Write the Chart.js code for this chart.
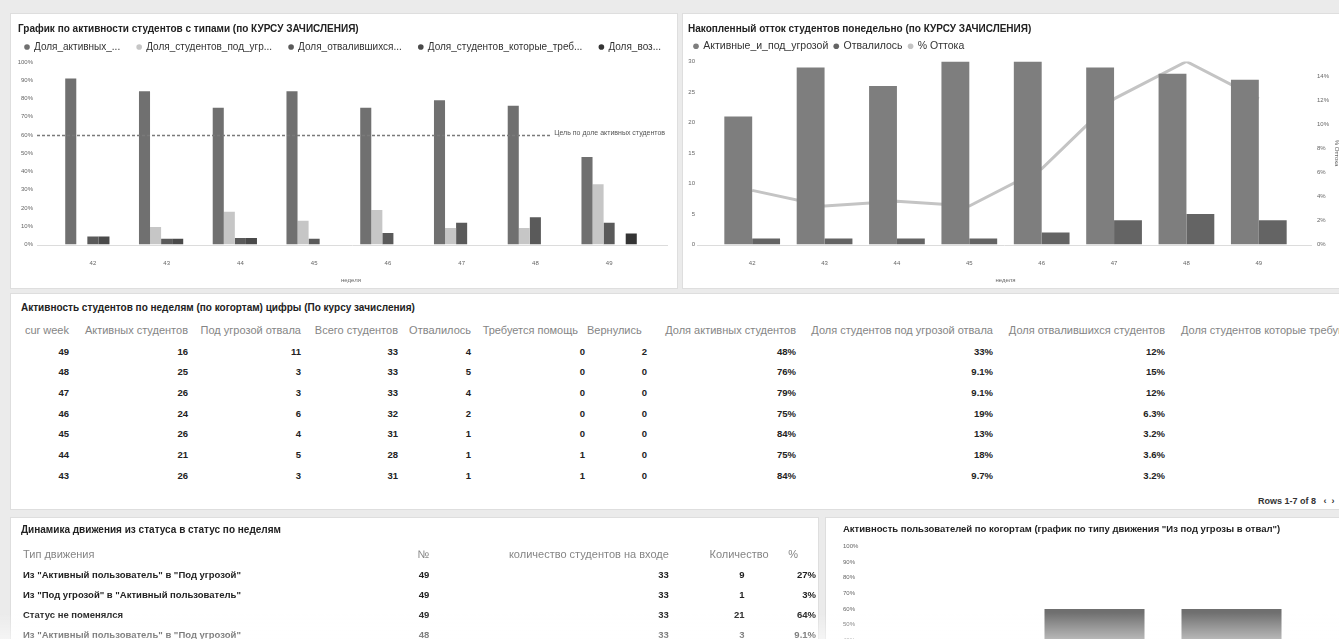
<!DOCTYPE html>
<html>
<head>
<meta charset="utf-8">
<script src="https://cdn.jsdelivr.net/npm/chart.js@4/dist/chart.umd.min.js"></script>
<style>
  html, body { margin: 0; padding: 0; }
  body { width: 1339px; height: 639px; overflow: hidden; background: #ebebeb; font-family: "Liberation Sans", Arial, sans-serif; }
  #page { position: relative; width: 1339px; height: 639px; filter: blur(0.6px); }
  .panel { position: absolute; background: #fff; border: 1px solid #dedede; box-sizing: border-box; overflow: hidden; }
  canvas { position: absolute; }
  .ptitle { position: absolute; font-size: 10px; font-weight: bold; color: #222; white-space: nowrap; line-height: 12px; }
  table { position: absolute; border-collapse: collapse; table-layout: fixed; }
  td, th { padding: 0 2px 0 0; white-space: nowrap; overflow: hidden; text-align: right; }
  th { font-weight: normal; color: #858585; font-size: 11px; }
  td { font-weight: bold; color: #222; font-size: 9.5px; }
  .pager { position: absolute; font-size: 9px; font-weight: bold; color: #333; white-space: nowrap; }
  #fade { position: absolute; left: 0; top: 612px; width: 1339px; height: 27px; background: linear-gradient(rgba(255,255,255,0), rgba(255,255,255,0.5)); }
</style>
</head>
<body>
<div id="page">
  <div class="panel" style="left:10px; top:13px; width:668px; height:276px;"></div>
  <canvas id="chart-activity" width="659" height="274" style="left:18px; top:14px;"></canvas>

  <div class="panel" style="left:682px; top:13px; width:700px; height:276px;"></div>
  <canvas id="chart-churn" width="657" height="274" style="left:688px; top:14px;"></canvas>

  <div class="panel" id="panel-weeks" style="left:10px; top:293px; width:1420px; height:217px;">
    <div class="ptitle" style="left:10px; top:8px;">Активность студентов по неделям (по когортам) цифры (По курсу зачисления)</div>
    <table id="table-weeks" style="left:8px; top:26px;"></table>
    <div class="pager" style="left:1247px; top:202px;">Rows 1-7 of 8 &nbsp; ‹ &nbsp;›</div>
  </div>

  <div class="panel" id="panel-moves" style="left:10px; top:517px; width:809px; height:140px;">
    <div class="ptitle" style="left:10px; top:6px;">Динамика движения из статуса в статус по неделям</div>
    <table id="table-moves" style="left:8px; top:26px;"></table>
  </div>

  <div class="panel" style="left:825px; top:517px; width:560px; height:140px;"></div>
  <canvas id="chart-cohorts" width="505" height="211" style="left:840px; top:517px;"></canvas>

  <div id="fade"></div>
</div>

<script>
// weeks on the x axis of the two top charts
var weeks = ["42", "43", "44", "45", "46", "47", "48", "49"];

// top-left chart, shares in %
var activeShare = [91, 84, 75, 84, 75, 79, 76, 48];
var threatShare = [0, 9.7, 18, 13, 19, 9.1, 9.1, 33];
var leftShare = [4.5, 3.2, 3.6, 3.2, 6.3, 12, 15, 12];
var helpShare = [4.5, 3.2, 3.6, 0, 0, 0, 0, 0];
var returnedShare = [0, 0, 0, 0, 0, 0, 0, 6.1];
var targetShare = 60;

// top-right chart
var activeThreatCount = [21, 29, 26, 30, 30, 29, 28, 27];
var leftCount = [1, 1, 1, 1, 2, 4, 5, 4];
var churnPct = [4.5, 3.2, 3.6, 3.2, 6.3, 12.1, 15.2, 12.1];

// bottom-right chart
var cohortLabels = ["47", "48", "49"];
var threatToLeftShare = [0, 60, 60];

// weekly table
var weekHeaders = ["cur week", "Активных студентов", "Под угрозой отвала", "Всего студентов", "Отвалилось", "Требуется помощь", "Вернулись", "Доля активных студентов", "Доля студентов под угрозой отвала", "Доля отвалившихся студентов", "Доля студентов которые требуют помощи"];
var weekHeaderGap = [0, 0, 0, 0, 0, 7, 13, 0, 0, 0, 0];
var weekColWidths = [52, 119, 113, 97, 73, 114, 62, 149, 197, 172, 230];
var tableWeeks = [49, 48, 47, 46, 45, 44, 43];
var activeCol = [16, 25, 26, 24, 26, 21, 26];
var threatCol = [11, 3, 3, 6, 4, 5, 3];
var totalCol = [33, 33, 33, 32, 31, 28, 31];
var leftCol = [4, 5, 4, 2, 1, 1, 1];
var helpCol = [0, 0, 0, 0, 0, 1, 1];
var returnedCol = [2, 0, 0, 0, 0, 0, 0];
var activePctCol = ["48%", "76%", "79%", "75%", "84%", "75%", "84%"];
var threatPctCol = ["33%", "9.1%", "9.1%", "19%", "13%", "18%", "9.7%"];
var leftPctCol = ["12%", "15%", "12%", "6.3%", "3.2%", "3.6%", "3.2%"];
var helpPctCol = ["0%", "0%", "0%", "0%", "0%", "3.6%", "3.2%"];

// status movement table
var moveHeaders = ["Тип движения", "№", "количество студентов на входе", "Количество", "%"];
var moveColWidths = [380, 38, 242, 101, 48];
var moveTypes = ['Из "Активный пользователь" в "Под угрозой"', 'Из "Под угрозой" в "Активный пользователь"', 'Статус не поменялся', 'Из "Активный пользователь" в "Под угрозой"'];
var moveWeeks = [49, 49, 49, 48];
var moveInput = [33, 33, 33, 33];
var moveCount = [9, 1, 21, 3];
var movePct = ["27%", "3%", "64%", "9.1%"];

document.addEventListener("DOMContentLoaded", function() {
    Chart.defaults.font.family = '"Liberation Sans", Arial, sans-serif';
    Chart.defaults.color = "#666";

    var tickFont = { size: 6 };
    var noGrid = { display: false, drawTicks: false };

    // zero line, drawn a bit wider than the plot like in the dashboard
    var baseLine = {
        id: "baseLine",
        beforeDatasetsDraw: function(chart, args, opts) {
            var ctx = chart.ctx, area = chart.chartArea;
            var y0 = Math.round(chart.scales.y.getPixelForValue(0)) + 0.5;
            ctx.save();
            ctx.strokeStyle = "#dcdcdc";
            ctx.lineWidth = 1;
            ctx.beginPath();
            ctx.moveTo(area.left - opts.left, y0);
            ctx.lineTo(area.right + opts.right, y0);
            ctx.stroke();
            ctx.restore();
        }
    };

    // dashed goal line with its caption
    var goalLine = {
        id: "goalLine",
        afterDatasetsDraw: function(chart, args, opts) {
            var ctx = chart.ctx, area = chart.chartArea;
            var y = Math.round(chart.scales.y.getPixelForValue(opts.value)) + 0.5;
            var right = area.right + 19;
            ctx.save();
            ctx.font = "7px " + Chart.defaults.font.family;
            var w = ctx.measureText(opts.text).width;
            ctx.strokeStyle = "#7a7a7a";
            ctx.lineWidth = 1.5;
            ctx.setLineDash([3, 2]);
            ctx.beginPath();
            ctx.moveTo(area.left - 19, y);
            ctx.lineTo(right - w - 4, y);
            ctx.stroke();
            ctx.fillStyle = "#555";
            ctx.textAlign = "right";
            ctx.textBaseline = "bottom";
            ctx.fillText(opts.text, right, y + 1);
            ctx.restore();
        }
    };

    var titleOpts = function(text, top) {
        return {
            display: true,
            text: text,
            align: "start",
            color: "#222",
            font: { size: 10, weight: "bold" },
            padding: { top: top, bottom: 0 }
        };
    };

    // legend with small dots; "extra" widens the gap after each entry but the last
    var legendOpts = function(size, padding, extra) {
        return {
            align: "start",
            labels: {
                usePointStyle: true,
                pointStyle: "circle",
                boxWidth: 4,
                boxHeight: 4,
                padding: padding,
                color: "#333",
                font: { size: size },
                generateLabels: function(chart) {
                    var items = Chart.defaults.plugins.legend.labels.generateLabels(chart);
                    return items.map(function(item, i) {
                        if (i < items.length - 1) item.text = item.text + extra;
                        item.lineWidth = 0;
                        return item;
                    });
                }
            }
        };
    };

    new Chart(document.getElementById("chart-activity"), {
        type: "bar",
        data: {
            labels: weeks,
            datasets: [
                { label: "Доля_активных_...", data: activeShare, backgroundColor: "#707070" },
                { label: "Доля_студентов_под_угр...", data: threatShare, backgroundColor: "#c6c6c6" },
                { label: "Доля_отвалившихся...", data: leftShare, backgroundColor: "#5a5a5a" },
                { label: "Доля_студентов_которые_треб...", data: helpShare, backgroundColor: "#4a4a4a" },
                { label: "Доля_воз...", data: returnedShare, backgroundColor: "#343434" }
            ]
        },
        options: {
            responsive: false,
            animation: false,
            layout: { padding: { left: 0, right: 0, top: 0, bottom: 4 } },
            datasets: { bar: { categoryPercentage: 0.75, barPercentage: 1 } },
            plugins: {
                title: titleOpts("График по активности студентов с типами (по КУРСУ ЗАЧИСЛЕНИЯ)", 9),
                legend: legendOpts(10, 7, "\u2002\u2002"),
                tooltip: { enabled: false },
                baseLine: { left: 19, right: 22 },
                goalLine: { value: targetShare, text: "Цель по доле активных студентов" }
            },
            scales: {
                x: {
                    grid: { display: false },
                    border: { display: false },
                    ticks: { font: tickFont, padding: 7 },
                    title: { display: true, text: "неделя", font: tickFont, padding: { top: 3, bottom: 0 } }
                },
                y: {
                    min: 0,
                    max: 100,
                    grid: noGrid,
                    border: { display: false },
                    ticks: { stepSize: 10, font: tickFont, padding: 23, callback: function(v) { return v + "%"; } },
                    afterFit: function(scale) { scale.width = 38; }
                },
                // empty strip on the right, keeps the legend on one line
                side: {
                    position: "right",
                    grid: noGrid,
                    border: { display: false },
                    ticks: { display: false },
                    afterFit: function(scale) { scale.width = 31; }
                }
            }
        },
        plugins: [baseLine, goalLine]
    });

    new Chart(document.getElementById("chart-churn"), {
        type: "bar",
        data: {
            labels: weeks,
            datasets: [
                { label: "Активные_и_под_угрозой", data: activeThreatCount, backgroundColor: "#7e7e7e", order: 1 },
                { label: "Отвалилось", data: leftCount, backgroundColor: "#646464", order: 2 },
                { label: "% Оттока", type: "line", data: churnPct, yAxisID: "y1", borderColor: "#c4c4c4", backgroundColor: "#c4c4c4", borderWidth: 3, pointRadius: 0, order: 3 }
            ]
        },
        options: {
            responsive: false,
            animation: false,
            layout: { padding: { left: 0, right: 5, top: 0, bottom: 4 } },
            datasets: { bar: { categoryPercentage: 0.77, barPercentage: 1 } },
            plugins: {
                title: titleOpts("Накопленный отток студентов понедельно (по КУРСУ ЗАЧИСЛЕНИЯ)", 9),
                legend: legendOpts(10.5, 6, ""),
                tooltip: { enabled: false },
                baseLine: { left: 19, right: 17 }
            },
            scales: {
                x: {
                    grid: { display: false },
                    border: { display: false },
                    ticks: { font: tickFont, padding: 7 },
                    title: { display: true, text: "неделя", font: tickFont, padding: { top: 3, bottom: 0 } }
                },
                y: {
                    min: 0,
                    max: 30,
                    grid: noGrid,
                    border: { display: false },
                    ticks: { stepSize: 5, font: tickFont, padding: 21 },
                    afterFit: function(scale) { scale.width = 28; }
                },
                y1: {
                    position: "right",
                    min: 0,
                    max: Math.max.apply(null, churnPct),
                    grid: noGrid,
                    border: { display: false },
                    ticks: { stepSize: 2, font: tickFont, padding: 22, callback: function(v) { return v + "%"; } },
                    afterBuildTicks: function(scale) {
                        scale.ticks = scale.ticks.filter(function(t) { return Math.abs(t.value / 2 - Math.round(t.value / 2)) < 0.01; });
                    },
                    title: { display: true, text: "% Оттока", font: tickFont, padding: 0 },
                    afterFit: function(scale) { scale.width = 45; }
                }
            }
        },
        plugins: [baseLine]
    });

    new Chart(document.getElementById("chart-cohorts"), {
        type: "bar",
        data: {
            labels: cohortLabels,
            datasets: [
                { label: "Из под угрозы в отвал", data: threatToLeftShare, backgroundColor: "#6f6f6f" }
            ]
        },
        options: {
            responsive: false,
            animation: false,
            layout: { padding: { left: 3, right: 45, top: 0, bottom: 4 } },
            datasets: { bar: { categoryPercentage: 0.73, barPercentage: 1 } },
            plugins: {
                title: {
                    display: true,
                    text: 'Активность пользователей по когортам (график по типу движения "Из под угрозы в отвал")',
                    align: "start",
                    color: "#222",
                    font: { size: 9.5, weight: "bold" },
                    padding: { top: 7, bottom: 11 }
                },
                legend: { display: false },
                tooltip: { enabled: false }
            },
            scales: {
                x: {
                    grid: { display: false },
                    border: { display: false },
                    ticks: { font: tickFont, padding: 3 }
                },
                y: {
                    min: 0,
                    max: 100,
                    grid: noGrid,
                    border: { display: false },
                    ticks: { stepSize: 10, font: tickFont, padding: 3, crossAlign: "far", callback: function(v) { return v + "%"; } },
                    afterFit: function(scale) { scale.width = 46; }
                }
            }
        }
    });

    // weekly numbers table
    var weekTable = document.getElementById("table-weeks");
    var total = weekColWidths.reduce(function(a, b) { return a + b; }, 0);
    weekTable.style.width = total + "px";
    var html = "<colgroup>";
    weekColWidths.forEach(function(w) { html += '<col style="width:' + w + 'px">'; });
    html += '</colgroup><tr style="height:20.7px">';
    weekHeaders.forEach(function(h, j) { html += '<th style="padding-right:' + (2 + weekHeaderGap[j]) + 'px">' + h + "</th>"; });
    html += "</tr>";
    tableWeeks.forEach(function(wk, i) {
        var cells = [wk, activeCol[i], threatCol[i], totalCol[i], leftCol[i], helpCol[i], returnedCol[i], activePctCol[i], threatPctCol[i], leftPctCol[i], helpPctCol[i]];
        html += '<tr style="height:20.7px">';
        cells.forEach(function(c) { html += "<td>" + c + "</td>"; });
        html += "</tr>";
    });
    weekTable.innerHTML = html;

    // status movement table
    var moveTable = document.getElementById("table-moves");
    html = "<colgroup>";
    moveColWidths.forEach(function(w) { html += '<col style="width:' + w + 'px">'; });
    html += '</colgroup><tr style="height:20px">';
    moveHeaders.forEach(function(h, j) {
        var style = j === 0 ? ' style="text-align:left; padding-left:4px"' : (j === 4 ? ' style="padding-right:20px"' : "");
        html += "<th" + style + ">" + h + "</th>";
    });
    html += "</tr>";
    moveTypes.forEach(function(t, i) {
        html += '<tr style="height:20px">';
        html += '<td style="text-align:left; padding-left:4px">' + t + "</td>";
        html += "<td>" + moveWeeks[i] + "</td>";
        html += "<td>" + moveInput[i] + "</td>";
        html += '<td style="padding-right:26px">' + moveCount[i] + "</td>";
        html += "<td>" + movePct[i] + "</td>";
        html += "</tr>";
    });
    moveTable.innerHTML = html;
});
</script>
</body>
</html>
